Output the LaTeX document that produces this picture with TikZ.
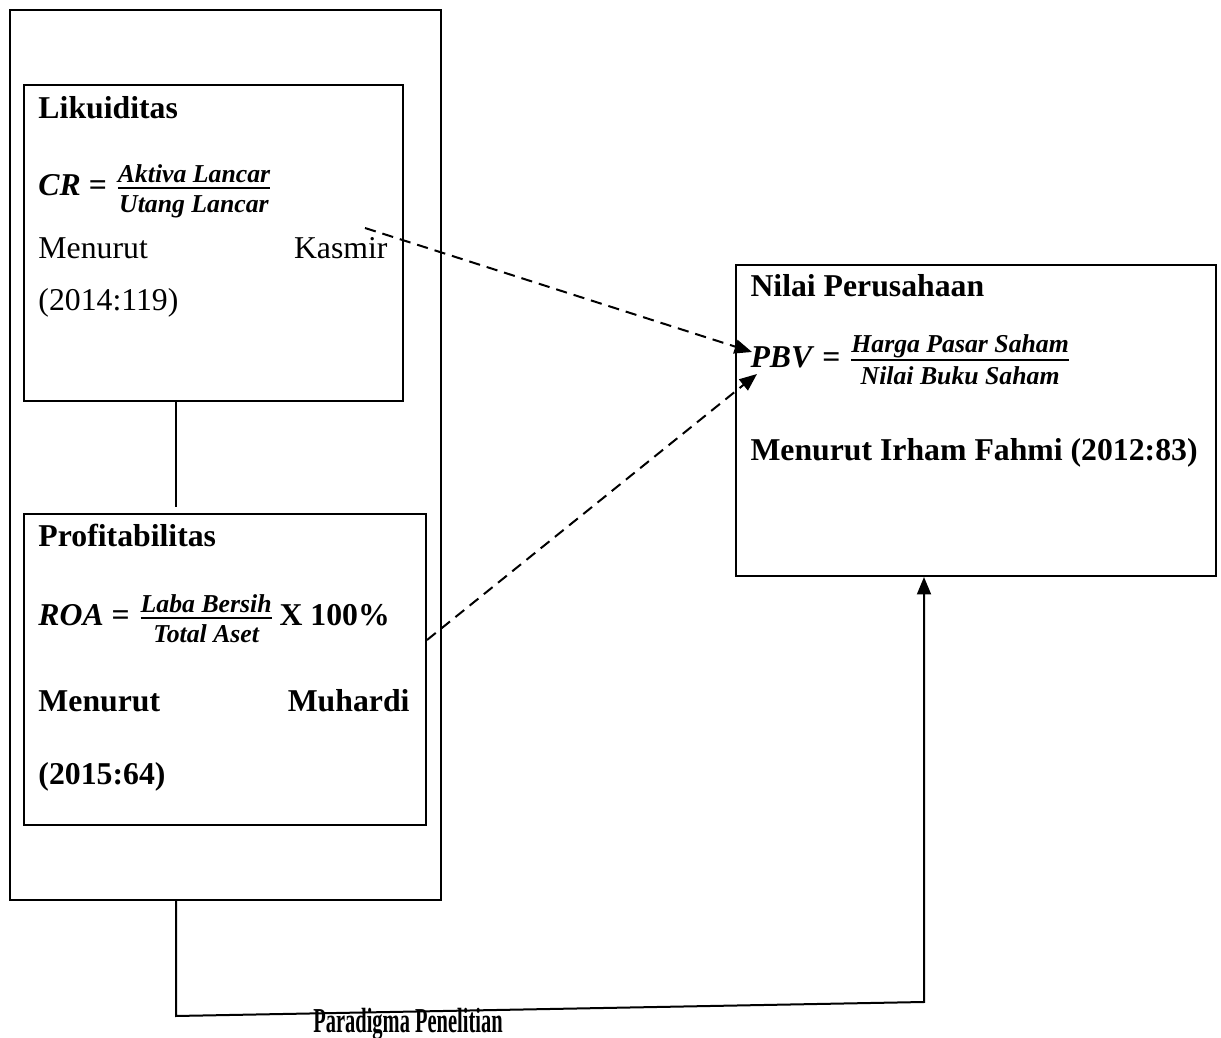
\documentclass[tikz,border=0pt]{standalone}
\usepackage{fontspec}
\setmainfont{Liberation Serif}
\usepackage{amsmath}
\usepackage{graphicx}
\usetikzlibrary{arrows.meta,positioning,fit}
\tikzset{
  kotak/.style={draw, line width=0.8pt, inner sep=0pt},
  teks/.style={anchor=base west, inner sep=0pt, font=\fontsize{12.7}{15}\selectfont},
  teksk/.style={teks, anchor=base east},
  garis/.style={line width=0.8pt},
  panah/.style={garis, -{Triangle[length=7pt,width=5.6pt]}},
  putus/.style={panah, dash pattern=on 4.5pt off 2.8pt}
}
\newcommand{\pecahan}[2]{\genfrac{}{}{0.8pt}{1}%
  {\text{\fontsize{10.3}{12}\selectfont\bfseries\itshape #1\rule[-1.2pt]{0pt}{1pt}}}%
  {\text{\fontsize{10.3}{12}\selectfont\bfseries\itshape\rule{0pt}{8.3pt}#2}}}
\begin{document}
\begin{tikzpicture}[x=0.4pt, y=-0.4pt]
    \useasboundingbox (0,0) rectangle (1221,1038);
    % kotak
    \node[kotak, fit={(10,10) (441,900)}] (luar) {};
    \node[kotak, fit={(24,85) (403,401)}] (likuid) {};
    \node[kotak, fit={(24,514) (426,825)}] (profit) {};
    \node[kotak, fit={(736,265) (1216,576)}] (nilai) {};
    % isi likuiditas
    \node[teks] (judulA) at (38,119) {\bfseries Likuiditas};
    \node[teks] (rumusA) at (38,196) {\textbf{\textit{CR} =} $\pecahan{Aktiva Lancar}{Utang Lancar}$};
    \node[teks] (sumberA) at (38,259) {Menurut};
    \node[teksk] (sumberA2) at (388,259) {Kasmir};
    \node[teks] (tahunA) at (38,311) {(2014:119)};
    % isi profitabilitas
    \node[teks] (judulB) at (38,547) {\bfseries Profitabilitas};
    \node[teks] (rumusB) at (38,626) {\textbf{\textit{ROA} =} $\pecahan{Laba Bersih}{Total Aset}$\hspace{2pt}\textbf{X 100\%}};
    \node[teks] (sumberB) at (38,712) {\bfseries Menurut};
    \node[teksk] (sumberB2) at (410,712) {\bfseries Muhardi};
    \node[teks] (tahunB) at (38,784) {\bfseries (2015:64)};
    % isi nilai perusahaan
    \node[teks] (judulC) at (750,297) {\bfseries Nilai Perusahaan};
    \node[teks] (rumusC) at (750,368) {\textbf{\textit{PBV} =} $\pecahan{Harga Pasar Saham}{Nilai Buku Saham}$};
    \node[teks] (sumberC) at (750,461) {\bfseries Menurut Irham Fahmi (2012:83)};
    \node (judul) at (408,1024) {\fontsize{14}{16}\selectfont\scalebox{0.585}[1]{\bfseries Paradigma Penelitian}};
    % penghubung
    \coordinate (a1) at (365,228);
    \coordinate (a2) at (752,352);
    \coordinate (b2) at (757,374);
    \draw[garis] (likuid.south -| 176,0) -- (176,507);
    \draw[putus] (a1) -- (a2);
    \draw[putus] (profit.east |- 0,640) -- (b2);
    \draw[panah] (luar.south -| 176,0) -- (176,1016) -- (924,1002) -- (nilai.south -| 924,0);
\end{tikzpicture}
\end{document}
